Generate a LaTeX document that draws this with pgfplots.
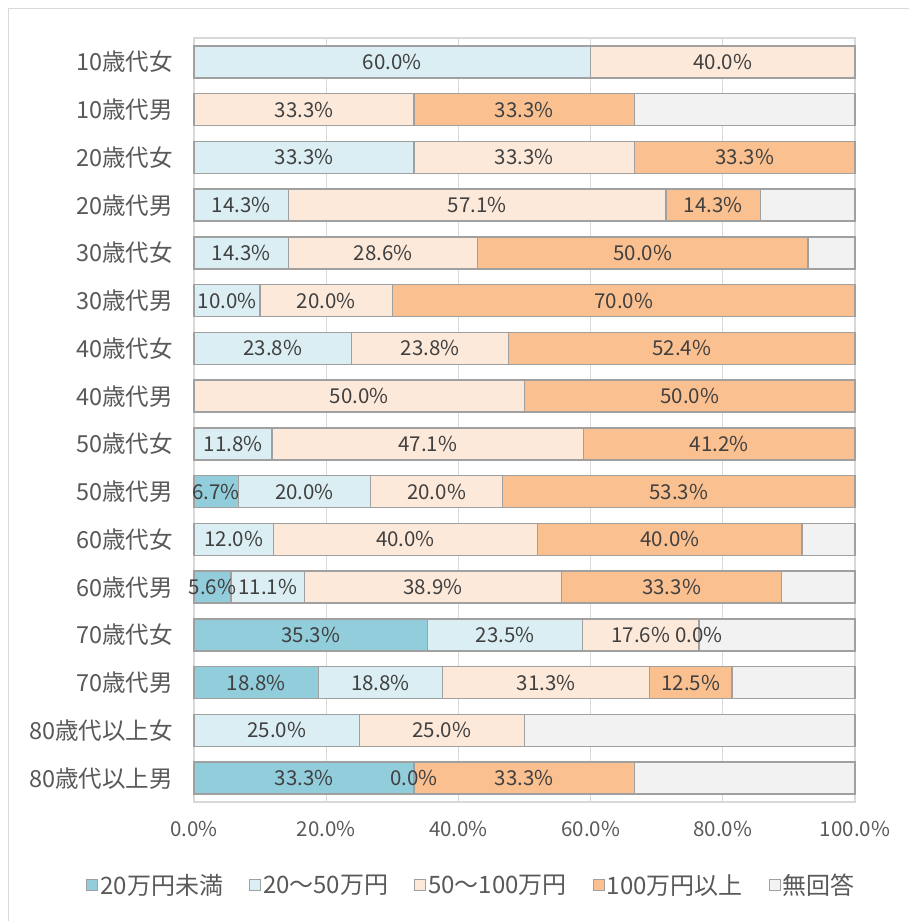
\documentclass[border=0pt]{standalone}
\usepackage{fontspec}
\setmainfont{Noto Sans CJK JP}
\usepackage{pgfplots}
\usepackage{pgfplotstable}
\pgfplotsset{compat=1.18}
\definecolor{cA}{HTML}{92CDDC}
\definecolor{cB}{HTML}{DAEEF3}
\definecolor{cC}{HTML}{FDE9D9}
\definecolor{cD}{HTML}{FAC090}
\definecolor{cE}{HTML}{F2F2F2}
\definecolor{txt}{HTML}{595959}
\definecolor{lbl}{HTML}{404040}
\definecolor{edge}{HTML}{A0A0A0}
\definecolor{gridc}{HTML}{D9D9D9}

\pgfplotstableread{
y a la b lb c lc d ld e
1 0 {} 60.0 60.0\% 40.0 40.0\% 0 {} 0
2 0 {} 0 {} 33.3 33.3\% 33.3 33.3\% 33.4
3 0 {} 33.3 33.3\% 33.3 33.3\% 33.4 33.3\% 0
4 0 {} 14.3 14.3\% 57.1 57.1\% 14.3 14.3\% 14.3
5 0 {} 14.3 14.3\% 28.6 28.6\% 50.0 50.0\% 7.1
6 0 {} 10.0 10.0\% 20.0 20.0\% 70.0 70.0\% 0
7 0 {} 23.8 23.8\% 23.8 23.8\% 52.4 52.4\% 0
8 0 {} 0 {} 50.0 50.0\% 50.0 50.0\% 0
9 0 {} 11.8 11.8\% 47.1 47.1\% 41.1 41.2\% 0
10 6.7 6.7\% 20.0 20.0\% 20.0 20.0\% 53.3 53.3\% 0
11 0 {} 12.0 12.0\% 40.0 40.0\% 40.0 40.0\% 8.0
12 5.6 5.6\% 11.1 11.1\% 38.9 38.9\% 33.3 33.3\% 11.1
13 35.3 35.3\% 23.5 23.5\% 17.6 17.6\% 0.001 0.0\% 23.6
14 18.8 18.8\% 18.8 18.8\% 31.3 31.3\% 12.5 12.5\% 18.6
15 0 {} 25.0 25.0\% 25.0 25.0\% 0 {} 50.0
16 33.3 33.3\% 0.001 0.0\% 0 {} 33.3 33.3\% 33.4
}\data

\pgfplotsset{
  seg/.style={draw=edge, line width=1.4bp, fill=#1},
  frame/.style={
    at={(194bp,-802bp)}, anchor=south west,
    scale only axis, width=661bp, height=764bp,
    xbar stacked, bar width=32bp,
    xmin=0, xmax=100, ymin=0.5, ymax=16.5, y dir=reverse,
    clip=false,
  },
  lab/.style={
    draw=none, fill=none,
    nodes near coords={\pgfplotspointmeta},
    point meta=explicit symbolic,
    every node near coord/.style={anchor=center, inner sep=0pt,
      font=\fontsize{20.5bp}{24bp}\selectfont, text=lbl},
  },
}

\begin{document}
\begin{tikzpicture}
\useasboundingbox (0bp,0bp) rectangle (909bp,-921bp);
\draw[draw=gridc, line width=1.5bp] (8.5bp,-921bp) -- (8.5bp,-8.5bp) -- (909bp,-8.5bp);
\begin{axis}[
  frame,
  ytick={1,...,16},
  yticklabels={10歳代女,10歳代男,20歳代女,20歳代男,30歳代女,30歳代男,40歳代女,40歳代男,50歳代女,50歳代男,60歳代女,60歳代男,70歳代女,70歳代男,80歳代以上女,80歳代以上男},
  xtick={0,20,40,60,80,100},
  xticklabels={0.0\%,20.0\%,40.0\%,60.0\%,80.0\%,100.0\%},
  major tick length=0pt,
  xmajorgrids, grid style={draw=gridc, line width=1.2bp},
  axis line style={draw=gridc, line width=1.2bp},
  yticklabel style={font=\fontsize{23.5bp}{27bp}\selectfont, text=txt, inner sep=0pt, xshift=-21bp},
  xticklabel style={font=\fontsize{20.5bp}{24bp}\selectfont, text=txt, inner sep=0pt, yshift=-19bp},
  legend columns=5,
  legend style={draw=none, fill=none, at={(0.42,-0.1086)}, anchor=center,
    font=\fontsize{24bp}{28bp}\selectfont, text=txt,
    /tikz/every even column/.append style={column sep=24bp},
    /tikz/every odd column/.append style={column sep=0bp}},
  legend image code/.code={\draw[#1, line width=1bp] (0bp,-5.5bp) rectangle (11bp,5.5bp);},
]
\addplot[seg=cA] table[x=a, y=y] {\data};
\addplot[seg=cB] table[x=b, y=y] {\data};
\addplot[seg=cC] table[x=c, y=y] {\data};
\addplot[seg=cD] table[x=d, y=y] {\data};
\addplot[seg=cE] table[x=e, y=y] {\data};
\legend{20万円未満,20～50万円,50～100万円,100万円以上,無回答}
\end{axis}
\begin{axis}[frame, hide axis]
\addplot[lab] table[x=a, y=y, meta=la] {\data};
\addplot[lab] table[x=b, y=y, meta=lb] {\data};
\addplot[lab] table[x=c, y=y, meta=lc] {\data};
\addplot[lab] table[x=d, y=y, meta=ld] {\data};
\end{axis}
\end{tikzpicture}
\end{document}
